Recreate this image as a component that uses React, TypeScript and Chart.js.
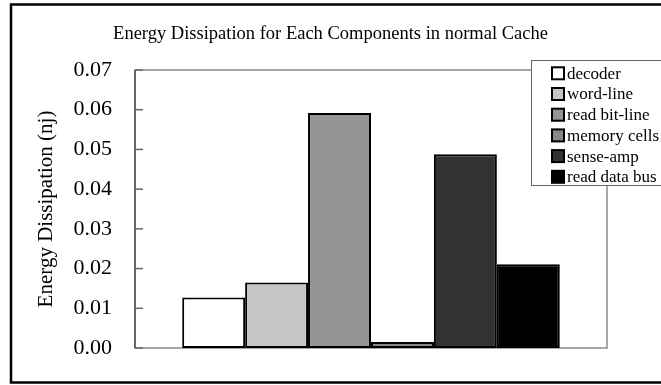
import React, { useEffect, useRef } from "react";
import { Chart, registerables } from "chart.js";

Chart.register(...registerables);

const categories = [""];
const seriesNames = ["decoder", "word-line", "read bit-line", "memory cells", "sense-amp", "read data bus"];
const seriesValues = [0.0127, 0.0165, 0.0592, 0.0015, 0.0488, 0.0211];
const seriesColors = ["#ffffff", "#c6c4c7", "#949693", "#888888", "#323232", "#000000"];
const yTicks = [0, 0.01, 0.02, 0.03, 0.04, 0.05, 0.06, 0.07];
const titleText = "Energy Dissipation for Each Components in normal Cache";
const yTitle = "Energy Dissipation (nj)";

const FONT = "'Liberation Serif', 'Times New Roman', serif";

const framePlugin = {
  id: "frame",
  afterLayout(chart: any) {
    const t = chart.titleBlock;
    if (t) {
      t.left = 0;
      t.right = chart.width;
      t.width = chart.width;
    }
  },
  beforeDatasetsDraw(chart: any) {
    const { ctx, chartArea } = chart;
    const ys = chart.scales.y;
    ctx.save();
    ctx.strokeStyle = "#8a8a8a";
    ctx.lineWidth = 1.5;
    ctx.strokeRect(chartArea.left, chartArea.top, chartArea.right - chartArea.left, chartArea.bottom - chartArea.top);
    ctx.strokeStyle = "#666666";
    ctx.lineWidth = 2;
    ctx.beginPath();
    ctx.moveTo(chartArea.left, chartArea.top);
    ctx.lineTo(chartArea.left, chartArea.bottom);
    ctx.stroke();
    ctx.lineWidth = 1.5;
    yTicks.forEach((v) => {
      const y = ys.getPixelForValue(v);
      ctx.beginPath();
      ctx.moveTo(chartArea.left, y);
      ctx.lineTo(chartArea.left + 8, y);
      ctx.stroke();
    });
    ctx.restore();
  },
  afterDraw(chart: any) {
    const { ctx } = chart;
    ctx.save();
    // legend
    const lx = 531, ly = 60, lw = 140, lh = 125;
    ctx.fillStyle = "#ffffff";
    ctx.fillRect(lx, ly, lw, lh);
    ctx.strokeStyle = "#666666";
    ctx.lineWidth = 1;
    ctx.strokeRect(lx + 0.5, ly + 0.5, lw, lh);
    ctx.font = "17px " + FONT;
    ctx.textBaseline = "middle";
    ctx.textAlign = "left";
    chart.data.datasets.forEach((ds: any, i: number) => {
      const cy = 73.3 + i * 20.7;
      ctx.fillStyle = ds.backgroundColor;
      ctx.fillRect(552, cy - 6, 12, 12);
      ctx.strokeStyle = "#000";
      ctx.lineWidth = 2;
      ctx.strokeRect(552, cy - 6, 12, 12);
      ctx.fillStyle = "#000";
      ctx.fillText(ds.label, 567, cy + 1);
    });
    // outer border
    ctx.strokeStyle = "#000";
    ctx.lineWidth = 2.5;
    ctx.strokeRect(11, 4.5, 700, 378);
    ctx.restore();
  },
};

export default function App() {
  const ref = useRef<HTMLCanvasElement | null>(null);
  useEffect(() => {
    if (!ref.current) return;
    const chart = new Chart(ref.current, {
      type: "bar",
      data: {
        labels: categories,
        datasets: seriesNames.map((name, i) => ({
          label: name,
          data: [seriesValues[i]],
          backgroundColor: seriesColors[i],
          borderColor: "#000000",
          borderWidth: 2,
          borderSkipped: false,
          categoryPercentage: 0.8,
          barPercentage: 1.0,
        })),
      },
      options: {
        animation: false,
        responsive: true,
        maintainAspectRatio: false,
        layout: { padding: { left: 15, right: 54, top: 0, bottom: 37 } },
        plugins: {
          legend: { display: false },
          tooltip: { enabled: false },
          title: {
            display: true,
            text: titleText,
            color: "#000",
            font: { family: FONT, size: 18.5, weight: "normal" },
            padding: { top: 23.4, bottom: 24.4 },
          },
        },
        scales: {
          x: { display: false },
          y: {
            min: 0,
            max: 0.07,
            afterFit: (s: any) => {
              s.width = 120;
            },
            afterBuildTicks: (s: any) => {
              s.ticks = yTicks.map((v) => ({ value: v }));
            },
            ticks: {
              color: "#000",
              padding: 23,
              font: { family: FONT, size: 22 },
              callback: (v: any) => Number(v).toFixed(2),
            },
            grid: { display: false, drawTicks: false },
            border: { display: false },
            title: {
              display: true,
              text: yTitle,
              color: "#000",
              font: { family: FONT, size: 21 },
              padding: { top: 19, bottom: 0 },
            },
          },
        },
      },
      plugins: [framePlugin],
    });
    return () => chart.destroy();
  }, []);
  return (
    <div style={{ position: "fixed", left: 0, top: 0, width: 661, height: 385, background: "#fff" }}>
      <canvas ref={ref} />
    </div>
  );
}
